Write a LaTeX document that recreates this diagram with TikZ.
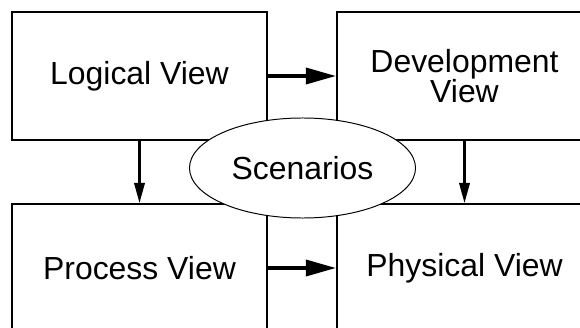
\documentclass[tikz,border=0pt]{standalone}
\usepackage{fontspec}
\setmainfont{Liberation Sans}
\usetikzlibrary{arrows.meta,shapes.geometric}
\tikzset{
	viewbox/.style={draw, line width=1.4pt, minimum width=6.375cm, minimum height=3.2cm, inner sep=0pt, align=center, font=\fontsize{22.7}{21.3}\selectfont},
	sidearrow/.style={line width=2.3pt, -{Triangle[length=0.75cm,width=0.4cm]}},
	downarrow/.style={line width=1.6pt, -{Triangle[length=0.5cm,width=0.26cm]}}
}
\begin{document}
\begin{tikzpicture}[x=0.025cm, y=-0.025cm]
				\useasboundingbox (0, 0) rectangle (580, 328);
				
				\node[viewbox] (logical) at (139.5, 76) {Logical View};
				\node[viewbox] (develop) at (464.5, 76) {Development\\View};
				\node[viewbox] (process) at (139.5, 268) {Process View};
				\node[viewbox] (physical) at (464.5, 268) {Physical View};
				
				\draw[sidearrow] (logical) -- (develop);
				\draw[sidearrow] (process) -- (physical);
				\draw[downarrow] (logical) -- (process);
				\draw[downarrow] (develop) -- (physical);
				
				\node[ellipse, draw, fill=white, line width=0.7pt, minimum width=5.65cm, minimum height=2.5cm, font=\fontsize{22.7}{21.3}\selectfont] (scenarios) at (302.5, 168) {Scenarios};
\end{tikzpicture}
\end{document}
